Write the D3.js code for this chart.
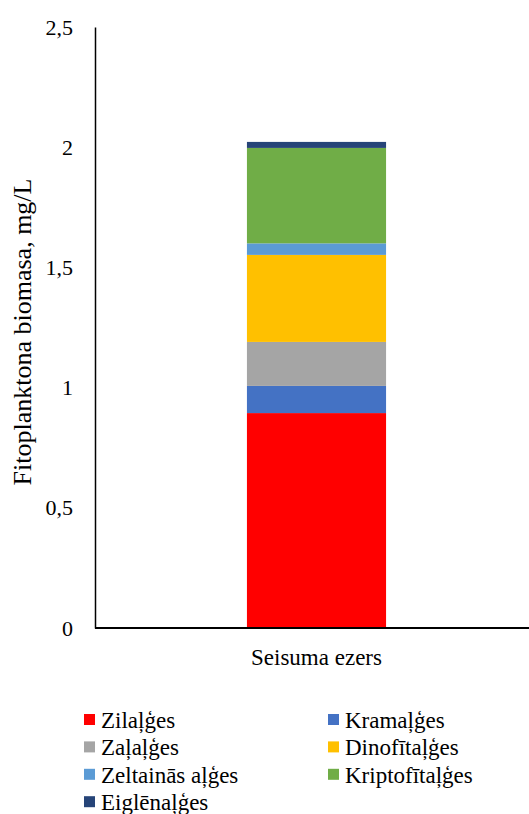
<!DOCTYPE html>
<html>
<head>
<meta charset="utf-8">
<script src="https://cdn.jsdelivr.net/npm/d3@7"></script>
<style>
  html, body { margin: 0; padding: 0; background: #fff; }
  svg { display: block; }
</style>
</head>
<body>
<svg id="chart" width="529" height="814"></svg>
<script>
// Phytoplankton biomass by algae group (mg/L)
const categories = ["Seisuma ezers"];
const groups = ["Zilaļģes", "Kramaļģes", "Zaļaļģes", "Dinofītaļģes", "Zeltainās aļģes", "Kriptofītaļģes", "Eiglēnaļģes"];
const groupColors = ["#FF0000", "#4472C4", "#A5A5A5", "#FFC000", "#5B9BD5", "#70AD47", "#264478"];
const seriesValues = [[0.894], [0.113], [0.183], [0.362], [0.048], [0.397], [0.025]];
const yTicks = [0, 0.5, 1, 1.5, 2, 2.5];
const yTickLabels = ["0", "0,5", "1", "1,5", "2", "2,5"];
const yTitle = "Fitoplanktona biomasa, mg/L";

const serif = '"Liberation Serif"';
const svg = d3.select("#chart");
const plot = { left: 95, right: 538, top: 27, bottom: 628 };

const x = d3.scaleBand().domain(categories).range([plot.left, plot.right]).padding(0.522);
const y = d3.scaleLinear().domain([0, 2.5]).range([plot.bottom, plot.top]);

// stack table built from the series arrays
const table = categories.map((c, i) => {
  const row = { category: c };
  groups.forEach((g, k) => { row[g] = seriesValues[k][i]; });
  return row;
});
const stacked = d3.stack().keys(groups)(table);

svg.append("g").selectAll("g")
  .data(stacked)
  .join("g")
  .attr("fill", (d, k) => groupColors[k])
  .selectAll("rect")
  .data(d => d)
  .join("rect")
  .attr("x", d => x(d.data.category))
  .attr("width", x.bandwidth())
  .attr("y", d => y(d[1]))
  .attr("height", d => y(d[0]) - y(d[1]));

// y axis: line and labels only
const yAxis = svg.append("g")
  .attr("transform", `translate(${plot.left},0)`)
  .call(d3.axisLeft(y).tickValues(yTicks).tickFormat((d, i) => yTickLabels[i]).tickSize(0).tickPadding(22));
yAxis.select(".domain").attr("stroke", "#000").attr("stroke-width", 1.5);

// x axis baseline and category label
const xAxis = svg.append("g")
  .attr("transform", `translate(0,${plot.bottom})`)
  .call(d3.axisBottom(x).tickSize(0).tickPadding(0));
xAxis.select(".domain").attr("stroke", "#000").attr("stroke-width", 2).attr("d", `M${plot.left},0H${plot.right}`);
xAxis.selectAll("text").attr("dy", null).attr("y", 37);

// axis text styling
yAxis.selectAll("text").attr("fill", "#000").style("font-family", serif).style("font-size", "22px");
xAxis.selectAll("text").attr("fill", "#000").style("font-family", serif).style("font-size", "23px");

// y axis title
svg.append("text")
  .attr("transform", `translate(31,${(172 + 492) / 2}) rotate(-90)`)
  .attr("text-anchor", "middle")
  .style("font-family", serif)
  .style("font-size", "26px")
  .text(yTitle);

// legend, two columns
const legend = svg.append("g");
const item = legend.selectAll("g")
  .data(groups)
  .join("g")
  .attr("transform", (d, i) => `translate(${i % 2 === 0 ? 84 : 328},${728 + Math.floor(i / 2) * 27.4})`);
item.append("rect")
  .attr("x", 0).attr("y", -14)
  .attr("width", 11).attr("height", 11)
  .attr("fill", (d, i) => groupColors[i]);
item.append("text")
  .attr("x", 17)
  .style("font-family", serif)
  .style("font-size", "23px")
  .text(d => d);
</script>
</body>
</html>
